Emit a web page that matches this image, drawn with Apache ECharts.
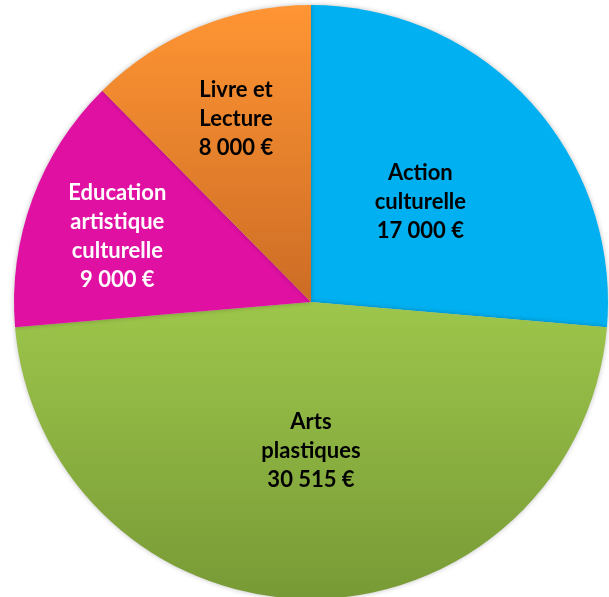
<!DOCTYPE html>
<html>
<head>
<meta charset="utf-8">
<script src="https://cdn.jsdelivr.net/npm/echarts@6/dist/echarts.min.js"></script>
<style>html,body{margin:0;padding:0;background:#fff}#c{width:609px;height:597px}</style>
</head>
<body>
<div id="c"></div>
<script>
const categories = ["Action\nculturelle", "Arts\nplastiques", "Education\nartistique\nculturelle", "Livre et\nLecture"];
const values = [17000, 30515, 9000, 8000];
const labelRadiusRatio = [0.5, 0.5, 0.695, 0.665];
const topColors = ["#00B0F0", "#9DC64B", "#E010A2", "#FF9533"];
const bottomColors = ["#00B0F0", "#789A36", "#E010A2", "#CC6C25"];
const textColors = ["#000", "#000", "#fff", "#000"];

const CX = 311, CY = 302, R = 297;
const total = values.reduce((a, b) => a + b, 0);
function fmt(v) { return String(v).replace(/\B(?=(\d{3})+(?!\d))/g, " ") + " €"; }

const mids = [];
let acc = 0;
values.forEach(v => { mids.push((acc + v / 2) / total * 2 * Math.PI); acc += v; });

const chart = echarts.init(document.getElementById('c'));
chart.setOption({
  animation: false,
  series: [{
    type: 'pie',
    center: [CX, CY],
    radius: R,
    startAngle: 90,
    clockwise: true,
    avoidLabelOverlap: false,
    label: {
      show: true,
      position: 'inside',
      fontFamily: 'Lato',
      fontWeight: 'bold',
      fontSize: 22,
      lineHeight: 29,
      align: 'center',
      formatter: p => p.name + "\n" + fmt(p.value)
    },
    labelLine: { show: false },
    labelLayout: p => {
      const i = p.dataIndex, a = mids[i], r = R * labelRadiusRatio[i];
      return { x: CX + r * Math.sin(a), y: CY - r * Math.cos(a) + (i === 2 ? 6 : 0), align: 'center', verticalAlign: 'middle' };
    },
    emphasis: { disabled: true },
    data: categories.map((c, i) => ({
      name: c,
      value: values[i],
      label: { color: textColors[i] },
      itemStyle: {
        color: new echarts.graphic.LinearGradient(0, 0, 0, 1, [
          { offset: 0, color: topColors[i] },
          { offset: 1, color: bottomColors[i] }
        ]),
        shadowBlur: 5,
        shadowColor: 'rgba(0,0,0,0.25)'
      }
    }))
  }]
});
</script>
</body>
</html>
